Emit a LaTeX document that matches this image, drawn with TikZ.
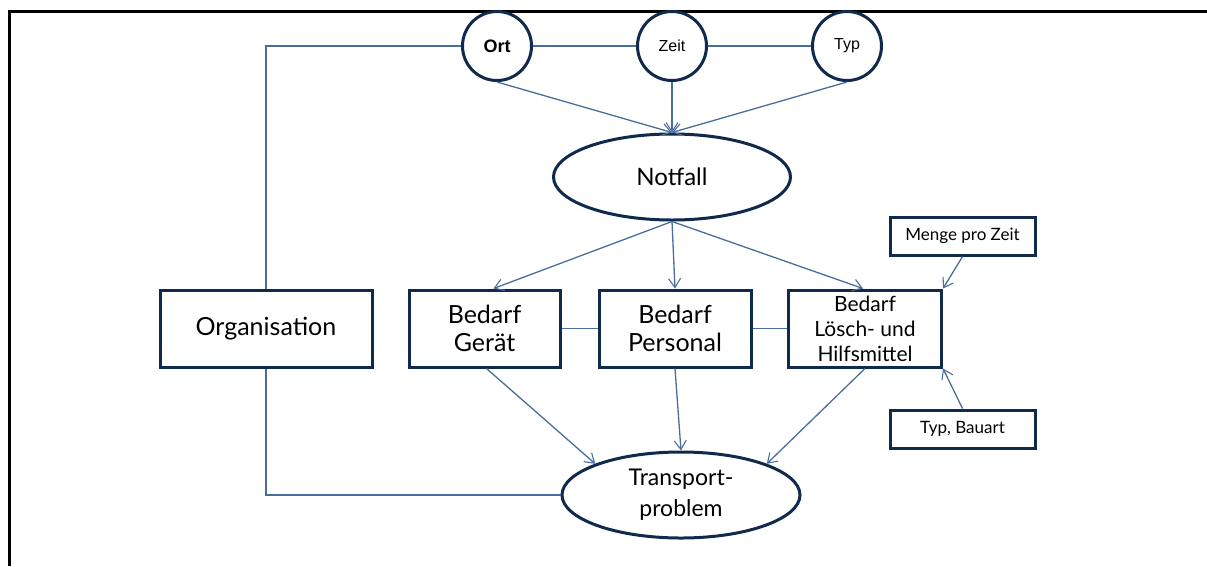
\documentclass[tikz,border=0pt]{standalone}
\usepackage{fontspec}
\setmainfont{Lato}
\newfontfamily\arialfont{Liberation Sans}
\usetikzlibrary{shapes.geometric,arrows.meta,calc}

\definecolor{navy}{HTML}{0F2A4C}
\definecolor{linkblue}{HTML}{4A6D9C}

\tikzset{
  frameline/.style={line width=3pt,black},
  boxnode/.style={draw=navy,line width=3pt,fill=white,rectangle,inner sep=0pt,
    align=center,text=black},
  bigbox/.style={boxnode,minimum height=77pt,font=\fontsize{25}{28}\selectfont},
  smallbox/.style={boxnode,minimum width=145pt,minimum height=38pt,
    font=\fontsize{17}{20}\selectfont},
  roundnode/.style={draw=navy,line width=3pt,fill=white,circle,minimum size=69pt,
    inner sep=0pt,font=\arialfont\fontsize{16}{19}\selectfont},
  ovalnode/.style={draw=navy,line width=3pt,fill=white,ellipse,inner sep=0pt,
    align=center,minimum height=86pt},
  link/.style={draw=linkblue,line width=1.3pt},
  flow/.style={link,-{Straight Barb[length=9pt,width=12pt,line width=1.1pt]}},
}

\begin{document}
\begin{tikzpicture}[x=1pt,y=-1pt]
  \useasboundingbox (0,0) rectangle (1207,566);

  % outer frame (top and left edges only)
  \draw[frameline] (9.5,566) -- (9.5,11.5) -- (1207,11.5);

  % attributes of the emergency
  \node[roundnode,font=\arialfont\bfseries\fontsize{18}{20}\selectfont] (ort)  at (497,46) {Ort};
  \node[roundnode] (zeit) at (672,46) {Zeit};
  \node[roundnode] (typ)  at (847,46) {Typ};

  \node[ovalnode,minimum width=237pt,font=\fontsize{24}{28}\selectfont] (notfall) at (672,177) {Notfall};

  % requirement boxes
  \node[bigbox,minimum width=212pt] (org)   at (266,328.5) {Organisation};
  \node[bigbox,minimum width=151pt] (ger)   at (484.5,328.5) {Bedarf\\Gerät};
  \node[bigbox,minimum width=152pt] (pers)  at (675,328.5) {Bedarf\\Personal};
  \node[bigbox,minimum width=153pt,font=\fontsize{21}{25}\selectfont] (loesch) at (865,328.5)
    {Bedarf\\Lösch- und\\Hilfsmittel};

  \node[smallbox] (menge) at (962.5,236) {Menge pro Zeit};
  \node[smallbox] (bau)   at (962.5,429) {Typ, Bauart};

  \node[ovalnode,minimum width=238pt,font=\fontsize{23}{31}\selectfont] (trans) at (681,495)
    {Transport-\\problem};

  % plain links
  \draw[link] (ort.east) -- (zeit.west);
  \draw[link] (zeit.east) -- (typ.west);
  \draw[link] (ort.west) -| (org.north);
  \draw[link] (org.south) |- (trans.west);
  \draw[link] (ger.east) -- (pers.west);
  \draw[link] (pers.east) -- (loesch.west);

  % arrows into the emergency
  \draw[flow] (ort.south) -- (notfall.north);
  \draw[flow] (zeit.south) -- (notfall.north);
  \draw[flow] (typ.south) -- (notfall.north);

  % arrows out of the emergency
  \draw[flow] (notfall.south) -- ($(ger.north)+(9,0)$);
  \draw[flow] (notfall.south) -- (pers.north);
  \draw[flow] (notfall.south) -- ($(loesch.north)+(-2,0)$);

  % side inputs
  \draw[flow] (menge.south) -- (loesch.north east);
  \draw[flow] (bau.north) -- (loesch.south east);

  % arrows into the transport problem
  \draw[flow] ($(ger.south)+(2,0)$) -- (trans.160);
  \draw[flow] (pers.south) -- (trans.north);
  \draw[flow] (loesch.south) -- (trans.20);
\end{tikzpicture}
\end{document}
